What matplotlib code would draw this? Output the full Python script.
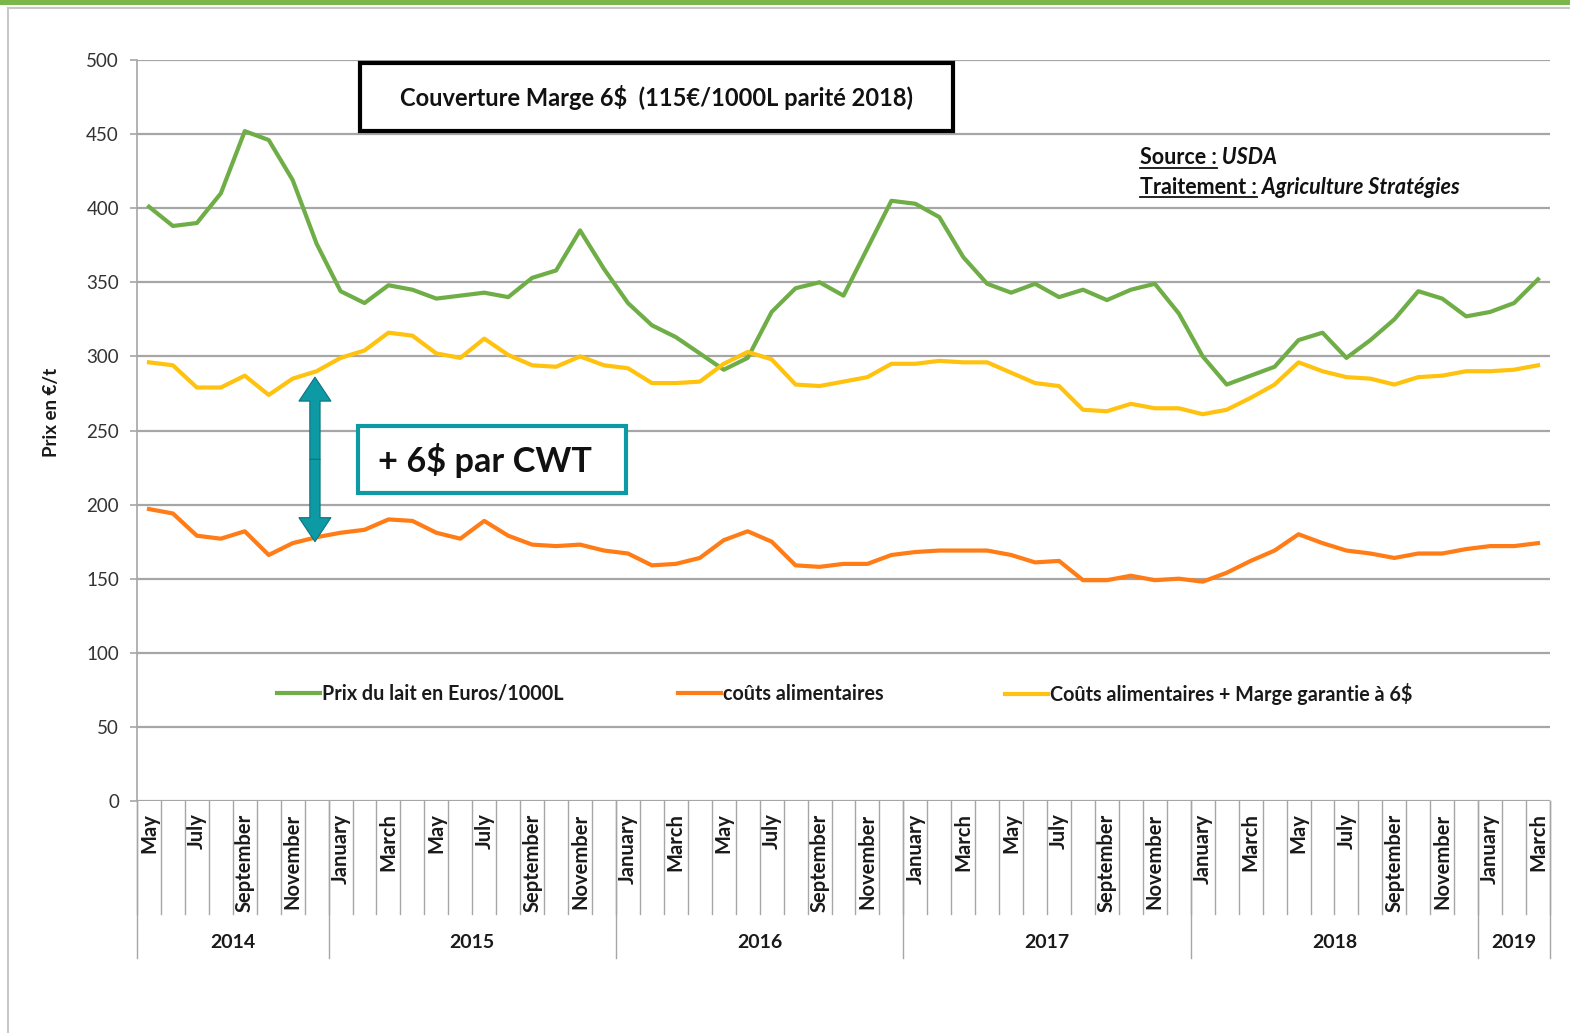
import numpy as np
import matplotlib
matplotlib.use("Agg")
import matplotlib.pyplot as plt
import matplotlib.transforms as mtransforms
from matplotlib.patches import Rectangle, FancyArrowPatch
from matplotlib.lines import Line2D

plt.rcParams['font.family'] = ['Lato', 'DejaVu Sans']

# ---------------- data ----------------
month_names = ["January", "February", "March", "April", "May", "June", "July",
               "August", "September", "October", "November", "December"]
years = [2014, 2015, 2016, 2017, 2018, 2019]
first_month = 5   # May 2014
last_month = 3    # March 2019

prix_lait = [401, 388, 390, 410, 452, 446, 419, 376,
             344, 336, 348, 345, 339, 341, 343, 340, 353, 358, 385, 359,
             336, 321, 313, 302, 291, 299, 330, 346, 350, 341, 373, 405,
             403, 394, 367, 349, 343, 349, 340, 345, 338, 345, 349, 329,
             300, 281, 287, 293, 311, 316, 299, 311, 325, 344, 339, 327,
             330, 336, 352]
couts_alim = [197, 194, 179, 177, 182, 166, 174, 178,
              181, 183, 190, 189, 181, 177, 189, 179, 173, 172, 173, 169,
              167, 159, 160, 164, 176, 182, 175, 159, 158, 160, 160, 166,
              168, 169, 169, 169, 166, 161, 162, 149, 149, 152, 149, 150,
              148, 154, 162, 169, 180, 174, 169, 167, 164, 167, 167, 170,
              172, 172, 174]
couts_marge = [296, 294, 279, 279, 287, 274, 285, 290,
               299, 304, 316, 314, 302, 299, 312, 301, 294, 293, 300, 294,
               292, 282, 282, 283, 295, 303, 298, 281, 280, 283, 286, 295,
               295, 297, 296, 296, 289, 282, 280, 264, 263, 268, 265, 265,
               261, 264, 272, 281, 296, 290, 286, 285, 281, 286, 287, 290,
               290, 291, 294]

series_labels = ["Prix du lait en Euros/1000L", "coûts alimentaires",
                 "Coûts alimentaires + Marge garantie à 6\\$"]

# categories (month, year)
cat_months, cat_years = [], []
for y in years:
    for m in range(1, 13):
        if (y == years[0] and m < first_month) or (y == years[-1] and m > last_month):
            continue
        cat_months.append(month_names[m - 1])
        cat_years.append(y)
n = len(cat_months)

GREEN = "#6fad46"
ORANGE = "#ff7c17"
YELLOW = "#ffc20e"
TEAL = "#0e9aa4"
GRID = "#a6a6a6"
TXT = "#1a1a1a"

W, H = 1570, 1033
fig = plt.figure(figsize=(W / 100, H / 100), dpi=100)
fig.patch.set_facecolor("white")

def fx(px):
    return px / W

def fy(py):
    return 1 - py / H

# page frame
fig.add_artist(Rectangle((0, fy(5)), 1, 5 / H, transform=fig.transFigure,
                         facecolor="#7ab648", edgecolor="none"))
fig.add_artist(Line2D([fx(8), 1], [fy(8), fy(8)], transform=fig.transFigure,
                      color="#c8c8c8", lw=1.5))
fig.add_artist(Line2D([fx(8), fx(8)], [fy(8), 0], transform=fig.transFigure,
                      color="#c8c8c8", lw=1.5))

ax = fig.add_axes([fx(137), fy(801), (1550 - 137) / W, (801 - 60) / H])
x = np.arange(n)
l1, = ax.plot(x, prix_lait, color=GREEN, lw=3, solid_joinstyle="round", zorder=3)
l2, = ax.plot(x, couts_alim, color=ORANGE, lw=3, solid_joinstyle="round", zorder=3)
l3, = ax.plot(x, couts_marge, color=YELLOW, lw=3, solid_joinstyle="round", zorder=3)

ax.set_xlim(-0.5, n - 0.5)
ax.set_ylim(0, 500)
ax.set_yticks(np.arange(0, 501, 50))
ax.grid(axis="y", color=GRID, lw=1.6)
ax.set_axisbelow(True)
for s in ["top", "right", "bottom"]:
    ax.spines[s].set_visible(False)
ax.spines["left"].set_color(GRID)
ax.spines["left"].set_linewidth(1.2)
ax.tick_params(axis="y", length=5, color=GRID, width=1.2, labelsize=13.5,
               labelcolor="#333333", pad=8)

ax.set_xticks(x)
ax.set_xticklabels([m if i % 2 == 0 else "" for i, m in enumerate(cat_months)],
                   rotation=90, fontsize=14.5, fontweight="bold", color=TXT)
ax.tick_params(axis="x", length=0, pad=9)
for t in ax.get_xticklabels():
    t.set_va("top")

trans = mtransforms.blended_transform_factory(ax.transData, ax.transAxes)
for b in np.arange(-0.5, n, 1.0):
    ax.plot([b, b], [0, -(914 - 801) / 741], transform=trans, clip_on=False,
            color=GRID, lw=1)
year_bounds = [-0.5]
for i in range(1, n):
    if cat_years[i] != cat_years[i - 1]:
        year_bounds.append(i - 0.5)
year_bounds.append(n - 0.5)
for b in year_bounds:
    ax.plot([b, b], [0, -(958 - 801) / 741], transform=trans, clip_on=False,
            color=GRID, lw=1)
for k in range(len(year_bounds) - 1):
    c = (year_bounds[k] + year_bounds[k + 1]) / 2
    ax.text(c, -(943 - 801) / 741, str(years[k]), transform=trans, ha="center",
            va="center", fontsize=14, fontweight="bold", color=TXT)

# y label
fig.text(fx(52), fy(412), "Prix en €/t", rotation=90, ha="center", va="center",
         fontsize=13.5, fontweight="bold", color=TXT)

# legends
leg_pos = [277, 678, 1005]
for (h, lab, px) in zip([l1, l2, l3], series_labels, leg_pos):
    lg = fig.legend([h], [lab], loc="center left", bbox_to_anchor=(fx(px), fy(694)),
                    frameon=False, borderpad=0, borderaxespad=0, handlelength=2.2,
                    handletextpad=0.1, prop={"weight": "bold", "size": 14.2})
    for t in lg.get_texts():
        t.set_color(TXT)

# title box
fig.add_artist(Rectangle((fx(360), fy(131)), (953 - 360) / W, (131 - 63) / H,
                         transform=fig.transFigure, facecolor="white",
                         edgecolor="black", lw=3, zorder=5))
fig.text(fx(656), fy(98), "Couverture Marge 6\\$  (115€/1000L parité 2018)",
         ha="center", va="center", fontsize=17, fontweight="bold", color="#111111",
         zorder=6)

# +6$ box
fig.add_artist(Rectangle((fx(358), fy(493)), (626 - 358) / W, (493 - 426) / H,
                         transform=fig.transFigure, facecolor="white",
                         edgecolor=TEAL, lw=3, zorder=5))
fig.text(fx(378), fy(461), "+ 6\\$ par CWT", ha="left", va="center",
         fontsize=24.7, fontweight="bold", color="#111111", zorder=6)

# double arrow
ax_x, y_top, y_bot = 6.93, 286, 175
y_mid = (y_top + y_bot) / 2
for yy in (y_top, y_bot):
    ar = FancyArrowPatch((ax_x, y_mid), (ax_x, yy),
                         arrowstyle="simple,head_length=0.75,head_width=1.0,tail_width=0.32",
                         mutation_scale=23, facecolor=TEAL, edgecolor="#0b7480",
                         lw=0.8, zorder=6, shrinkA=0, shrinkB=0)
    ax.add_patch(ar)

# source text
fig.canvas.draw()
renderer = fig.canvas.get_renderer()
for (lead, rest, py) in [("Source :", " USDA", 158), ("Traitement :", " Agriculture Stratégies", 187)]:
    t1 = fig.text(fx(1140), fy(py), lead, ha="left", va="center", fontsize=15.5,
                  fontweight="bold", color="#111111")
    bb = t1.get_window_extent(renderer)
    fig.text(bb.x1 / W, fy(py), rest, ha="left", va="center", fontsize=15.5,
             fontweight="bold", fontstyle="italic", color="#111111")
    uy = bb.y0 + 1
    fig.add_artist(Line2D([bb.x0 / W, bb.x1 / W], [uy / H, uy / H],
                          transform=fig.transFigure, color="#111111", lw=1.3))

fig.savefig("out.png", dpi=100, facecolor="white")
